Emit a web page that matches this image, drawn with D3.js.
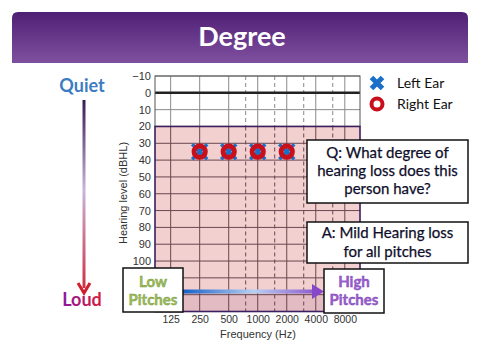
<!DOCTYPE html>
<html><head><meta charset="utf-8">
<script src="https://cdn.jsdelivr.net/npm/d3@7"></script>
<style>html,body{margin:0;padding:0;background:#fff;}svg{display:block;}</style>
</head><body>
<svg id="c" width="480" height="360"></svg>
<script>
const titleText = "Degree";
const xTickFreqs = [125, 250, 500, 1000, 2000, 4000, 8000];
const xTickLabels = ["125", "250", "500", "1000", "2000", "4000", "8000"];
const halfOctaves = [750, 1500, 3000, 6000];
const dbGrid = [-10, 0, 10, 20, 30, 40, 50, 60, 70, 80, 90, 100, 110, 120];
const dbTicks = [-10, 0, 10, 20, 30, 40, 50, 60, 70, 80, 90, 100];
const dbTickLabels = ["\u221210", "0", "10", "20", "30", "40", "50", "60", "70", "80", "90", "100"];
const testFreqs = [250, 500, 1000, 2000, 4000, 8000];
const leftEar = [35, 35, 35, 35, 35, 35];
const rightEar = [35, 35, 35, 35, 35, 35];
const legendLabels = ["Left Ear", "Right Ear"];
const qLines = ["Q: What degree of", "hearing loss does this", "person have?"];
const aLines = ["A: Mild Hearing loss", "for all pitches"];

const svg = d3.select("#c");
const defs = svg.append("defs");
const slide = "Lato, 'Open Sans', sans-serif";
const axisFont = "'Liberation Sans', Arial, sans-serif";

// gradients
const tg = defs.append("linearGradient").attr("id","tg").attr("x1",0).attr("y1",0).attr("x2",0).attr("y2",1);
tg.append("stop").attr("offset","0%").attr("stop-color","#4e2074");
tg.append("stop").attr("offset","100%").attr("stop-color","#8050a0");
const vg = defs.append("linearGradient").attr("id","vg").attr("gradientUnits","userSpaceOnUse").attr("x1",0).attr("y1",100).attr("x2",0).attr("y2",300);
vg.append("stop").attr("offset","0%").attr("stop-color","#3a1a52");
vg.append("stop").attr("offset","45%").attr("stop-color","#c9b5dc");
vg.append("stop").attr("offset","100%").attr("stop-color","#d0202e");
const hg = defs.append("linearGradient").attr("id","hg").attr("gradientUnits","userSpaceOnUse").attr("x1",183).attr("y1",0).attr("x2",325).attr("y2",0);
hg.append("stop").attr("offset","0%").attr("stop-color","#1560c8");
hg.append("stop").attr("offset","50%").attr("stop-color","#b8d0f2");
hg.append("stop").attr("offset","100%").attr("stop-color","#8648c8");
const lg = defs.append("linearGradient").attr("id","lg").attr("x1",0).attr("y1",0).attr("x2",1).attr("y2",0);
lg.append("stop").attr("offset","0%").attr("stop-color","#8a1aa0");
lg.append("stop").attr("offset","100%").attr("stop-color","#d8183a");

// title banner
const bx0 = 12, bx1 = 468, by0 = 12, by1 = 63, r = 6;
svg.append("path")
  .attr("d", `M${bx0},${by1} L${bx0},${by0+r} Q${bx0},${by0} ${bx0+r},${by0} L${bx1-r},${by0} Q${bx1},${by0} ${bx1},${by0+r} L${bx1},${by1} Z`)
  .attr("fill","url(#tg)");
svg.append("text").attr("x",242).attr("y",46).attr("text-anchor","middle")
  .attr("font-family",slide).attr("font-weight","bold").attr("font-size",27).attr("fill","#fff").text(titleText);

// scales
const x = d3.scaleLog().base(2).domain([86, 11500]).range([155, 360]);
const y = d3.scaleLinear().domain([-10, 130]).range([76, 311.5]);
const L = x.range()[0], R = x.range()[1], T = y(-10), B = y(130);

// pink region
svg.append("rect").attr("x",L).attr("y",y(20)).attr("width",R-L).attr("height",B-y(20)).attr("fill","#f3d0d0");
svg.append("rect").attr("x",L).attr("y",y(119)).attr("width",R-L).attr("height",B-y(119)).attr("fill","#e2bcc2");

const g = svg.append("g");
function vline(f, dashed){
  g.append("line").attr("x1",x(f)).attr("x2",x(f)).attr("y1",T).attr("y2",y(20))
    .attr("stroke","#8a8a8a").attr("stroke-width",1).attr("stroke-dasharray",dashed?"4,3":null);
  g.append("line").attr("x1",x(f)).attr("x2",x(f)).attr("y1",y(20)).attr("y2",B)
    .attr("stroke","#6a464e").attr("stroke-width",1).attr("stroke-dasharray",dashed?"4,3":null);
}
xTickFreqs.forEach(f => vline(f,false));
halfOctaves.forEach(f => vline(f,true));
dbGrid.forEach(d => {
  g.append("line").attr("x1",L).attr("x2",R).attr("y1",y(d)).attr("y2",y(d))
    .attr("stroke", d===0 ? "#222" : (d<=10 ? "#8a8a8a" : "#6a464e"))
    .attr("stroke-width", d===0 ? 2.5 : 1);
});
svg.append("rect").attr("x",L).attr("y",T).attr("width",R-L).attr("height",y(20)-T).attr("fill","none").attr("stroke","#555").attr("stroke-width",1);
svg.append("rect").attr("x",L).attr("y",y(20)).attr("width",R-L).attr("height",B-y(20)).attr("fill","none").attr("stroke","#3c1f5e").attr("stroke-width",1.6);

// axes labels
const yAxis = d3.axisLeft(y).tickValues(dbTicks).tickFormat((d,i)=>dbTickLabels[i]).tickSize(0).tickPadding(4);
const ya = svg.append("g").attr("transform",`translate(${L},0)`).call(yAxis);
ya.select(".domain").remove();
ya.selectAll("text").attr("font-family",axisFont).attr("font-size",11).attr("fill","#333");
const xAxis = d3.axisBottom(x).tickValues(xTickFreqs).tickFormat((d,i)=>xTickLabels[i]).tickSize(0).tickPadding(4);
const xa = svg.append("g").attr("transform",`translate(0,${B})`).call(xAxis);
xa.select(".domain").remove();
xa.selectAll("text").attr("font-family",axisFont).attr("font-size",10.5).attr("fill","#333");
svg.append("text").attr("x",258).attr("y",338).attr("text-anchor","middle")
  .attr("font-family",axisFont).attr("font-size",11).attr("fill","#333").text("Frequency (Hz)");
svg.append("text").attr("transform","translate(127,193) rotate(-90)").attr("text-anchor","middle")
  .attr("font-family",axisFont).attr("font-size",11).attr("fill","#333").text("Hearing level (dBHL)");

// markers
function xMark(sel, cx, cy, s, w){
  sel.append("path").attr("d",`M${cx-s},${cy-s}L${cx+s},${cy+s}M${cx-s},${cy+s}L${cx+s},${cy-s}`)
    .attr("stroke","#1b6fc8").attr("stroke-width",w).attr("fill","none");
}
const mk = svg.append("g");
testFreqs.forEach((f,i) => xMark(mk, x(f), y(leftEar[i]), 7.5, 3.5));
mk.selectAll("circle.r").data(testFreqs).join("circle").attr("class","r")
  .attr("cx",d=>x(d)).attr("cy",(d,i)=>y(rightEar[i])).attr("r",5.6)
  .attr("fill","none").attr("stroke","#c8101c").attr("stroke-width",5);

// legend
xMark(svg, 377, 83, 5.5, 5);
svg.append("circle").attr("cx",377).attr("cy",104).attr("r",5.5).attr("fill","#fff").attr("stroke","#c8101c").attr("stroke-width",4);
legendLabels.forEach((t,i)=>{
  svg.append("text").attr("x",397).attr("y",88+i*21).attr("font-family",slide).attr("font-size",14).attr("fill","#111").text(t);
});

// boxes
function box(x0,y0,w,h){
  svg.append("rect").attr("x",x0).attr("y",y0).attr("width",w).attr("height",h).attr("fill","#fff").attr("stroke","#111").attr("stroke-width",1.5);
}
box(307,140,161,63);
qLines.forEach((t,i)=>svg.append("text").attr("x",387.5).attr("y",158+i*18).attr("text-anchor","middle")
  .attr("font-family",slide).attr("font-size",15).attr("fill","#0e0e2a").attr("stroke","#0e0e2a").attr("stroke-width",0.25).text(t));
box(307,222,161,41);
aLines.forEach((t,i)=>svg.append("text").attr("x",387.5).attr("y",238+i*19).attr("text-anchor","middle")
  .attr("font-family",slide).attr("font-size",15).attr("fill","#0e0e2a").attr("stroke","#0e0e2a").attr("stroke-width",0.25).text(t));

// horizontal arrow
svg.append("line").attr("x1",183).attr("x2",314).attr("y1",291.5).attr("y2",291.5).attr("stroke","url(#hg)").attr("stroke-width",4);
svg.append("path").attr("d","M312,284 L324,291.5 L312,299 Z").attr("fill","#8648c8");

box(123,268,60,44);
["Low","Pitches"].forEach((t,i)=>svg.append("text").attr("x",153).attr("y",287+i*18).attr("text-anchor","middle")
  .attr("font-family",slide).attr("font-weight","bold").attr("font-size",15).attr("fill","#9bbb59").attr("stroke","#7a9a3a").attr("stroke-width",0.4).text(t));
box(324,269,60,44);
["High","Pitches"].forEach((t,i)=>svg.append("text").attr("x",354).attr("y",287+i*18).attr("text-anchor","middle")
  .attr("font-family",slide).attr("font-weight","bold").attr("font-size",15).attr("fill","#9a60d0").attr("stroke","#7a40b0").attr("stroke-width",0.4).text(t));

// vertical quiet/loud arrow
svg.append("text").attr("x",82).attr("y",92).attr("text-anchor","middle").attr("font-family",slide).attr("font-weight","bold").attr("font-size",18).attr("fill","#3c7cc2").text("Quiet");
svg.append("line").attr("x1",84).attr("x2",84).attr("y1",100).attr("y2",288).attr("stroke","url(#vg)").attr("stroke-width",3);
svg.append("path").attr("d","M78,283 L84,293 L90,283").attr("fill","none").attr("stroke","#d0202e").attr("stroke-width",3);
svg.append("text").attr("x",82).attr("y",306).attr("text-anchor","middle").attr("font-family",slide).attr("font-weight","bold").attr("font-size",18).attr("fill","url(#lg)").text("Loud");
</script>
</body></html>
